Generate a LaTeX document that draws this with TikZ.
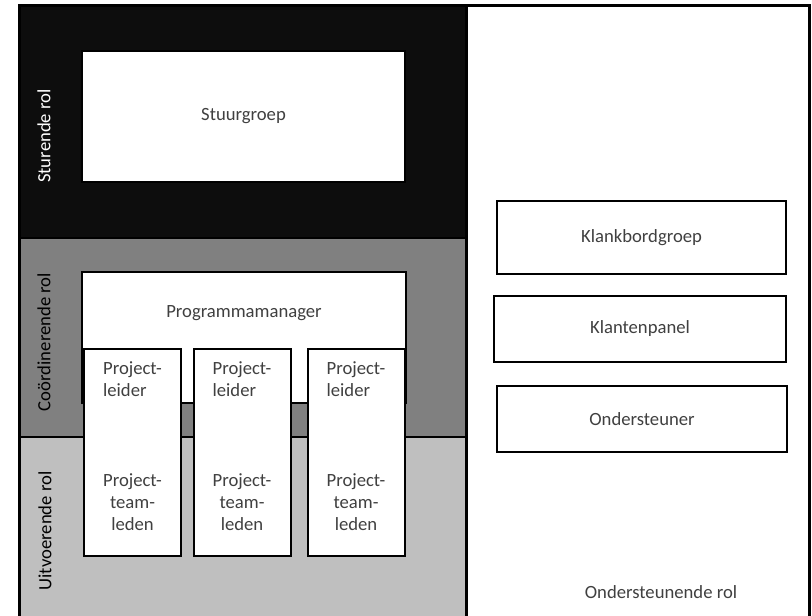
\documentclass[tikz,border=0pt]{standalone}
\usepackage{fontspec}
\setmainfont{Carlito}
\definecolor{blackfill}{HTML}{0D0D0D}
\definecolor{midfill}{HTML}{808080}
\definecolor{lightfill}{HTML}{BFBFBF}
\definecolor{txtgray}{HTML}{404040}
\begin{document}
\begin{tikzpicture}[x=0.75pt,y=-0.75pt,
  box/.style={draw=black, line width=1.5pt, fill=white, inner sep=0pt,
    font=\fontsize{14}{16.5}\selectfont, text=txtgray, align=center},
  txt/.style={inner sep=0pt, font=\fontsize{14}{16.5}\selectfont, text=txtgray},
  rolelabel/.style={inner sep=0pt, rotate=90, font=\fontsize{14}{16.5}\selectfont},
  divider/.style={draw=black, line width=1.5pt},
  frame/.style={draw=black, line width=2.25pt}]
\useasboundingbox (0,0) rectangle (812,615);
\clip (0,0) rectangle (812,615);
\fill[white] (0,0) rectangle (812,615);
% role bands
\fill[blackfill] (19,5) rectangle (466,238);
\fill[midfill] (19,238) rectangle (466,437);
\fill[lightfill] (19,437) rectangle (466,620);
\coordinate (d1l) at (19,238); \coordinate (d1r) at (466,238);
\coordinate (d2l) at (19,437); \coordinate (d2r) at (466,437);
\coordinate (vt) at (466,5); \coordinate (vb) at (466,620);
\draw[divider] (d1l) -- (d1r);
\draw[divider] (d2l) -- (d2r);
\draw[frame] (vt) -- (vb);
\draw[frame] (19,625) -- (19,5) -- (809,5) -- (809,625);
% role labels
\node[rolelabel, text=white] (lst) at (44,136) {Sturende rol};
\node[rolelabel, text=black] (lco) at (44,342) {Coördinerende rol};
\node[rolelabel, text=black] (luv) at (45,531) {Uitvoerende rol};
% boxes
\node[box, minimum width=242.25pt, minimum height=98.25pt] (sg) at (243.5,116.5) {Stuurgroep};
\node[box, minimum width=243pt, minimum height=98.25pt] (pm) at (244,337.5) {};
\node[txt] (pmt) at (244,313) {Programmamanager};
\foreach \i/\cx in {1/132.5, 2/242, 3/356} {
  \node[box, minimum width=72.75pt, minimum height=155.25pt] (col\i) at (\cx,452.5) {};
  \node[txt, align=left] (pl\i) at (\cx,379) {Project-\\leider};
  \node[txt, align=center] (tl\i) at (\cx,502) {Project-\\team-\\leden};
}
\node[box, minimum width=216.75pt, minimum height=54.75pt] (kb) at (641.5,237.5) {Klankbordgroep};
\node[box, minimum width=219pt, minimum height=49.5pt] (kp) at (640,329) {Klantenpanel};
\node[box, minimum width=217.5pt, minimum height=49.5pt] (os) at (642,419) {Ondersteuner};
\node[txt] (osr) at (661,592) {Ondersteunende rol};
\end{tikzpicture}
\end{document}
